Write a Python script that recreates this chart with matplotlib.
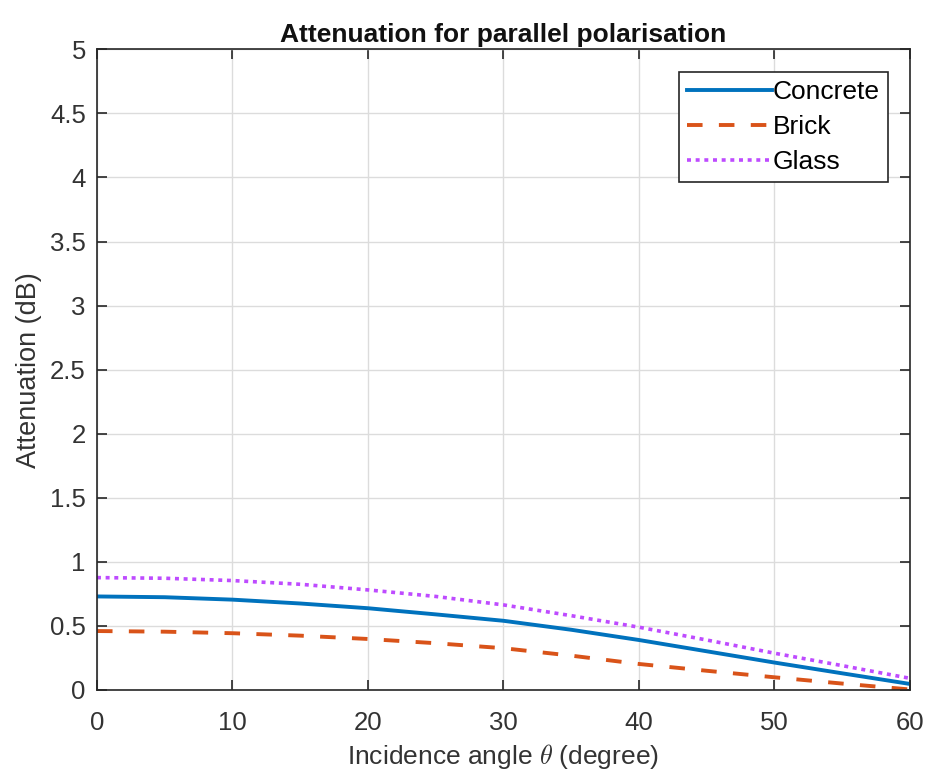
import matplotlib
matplotlib.use("Agg")
import matplotlib.pyplot as plt

# attenuation (dB) vs incidence angle, parallel polarisation
angle = [0, 5, 10, 15, 20, 25, 30, 35, 40, 45, 50, 55, 60]
concrete = [0.730, 0.724, 0.705, 0.675, 0.638, 0.590, 0.540, 0.470, 0.390, 0.302, 0.214, 0.130, 0.047]
brick = [0.460, 0.455, 0.443, 0.424, 0.398, 0.365, 0.326, 0.268, 0.203, 0.150, 0.099, 0.050, 0.004]
glass = [0.877, 0.872, 0.854, 0.825, 0.781, 0.730, 0.664, 0.580, 0.490, 0.390, 0.287, 0.190, 0.091]

x_ticks = [0, 10, 20, 30, 40, 50, 60]
y_ticks = [0, 0.5, 1, 1.5, 2, 2.5, 3, 3.5, 4, 4.5, 5]
y_tick_labels = ["0", "0.5", "1", "1.5", "2", "2.5", "3", "3.5", "4", "4.5", "5"]

plt.rcParams['font.family'] = ['Liberation Sans', 'DejaVu Sans']
plt.rcParams['mathtext.fontset'] = 'cm'

fig = plt.figure(figsize=(9.36, 7.73), dpi=100)
ax = fig.add_axes([0.1036, 0.1074, 0.8686, 0.8288])

ax.plot(angle, concrete, color='#0072BD', lw=2.8, ls='-', label='Concrete')
ax.plot(angle, brick, color='#D95319', lw=2.8, ls=(0, (4.0, 4.2)), label='Brick')
ax.plot(angle, glass, color='#BE4BFF', lw=2.6, ls=(0, (1.1, 1.3)), label='Glass')

ax.set_xlim(0, 60)
ax.set_ylim(0, 5)
ax.set_xticks(x_ticks)
ax.set_yticks(y_ticks)
ax.set_yticklabels(y_tick_labels)

ax.grid(True, color='#DCDCDC', lw=1.0)
ax.set_axisbelow(True)
for s in ax.spines.values():
    s.set_color('#262626')
    s.set_linewidth(1.2)
ax.tick_params(direction='in', length=7, width=1.2, color='#262626',
               labelsize=18.5, labelcolor='#333333', top=True, right=True)
ax.tick_params(axis='y', pad=8)
ax.tick_params(axis='x', pad=15)

ax.set_xlabel(r'Incidence angle $\theta$ (degree)', fontsize=19, color='#333333', labelpad=5)
ax.set_ylabel('Attenuation (dB)', fontsize=19.5, color='#333333', labelpad=6)
ax.set_title('Attenuation for parallel polarisation', fontsize=19, fontweight='bold',
             color='#111111', pad=5)

leg = ax.legend(loc='upper right', bbox_to_anchor=(0.973, 0.964), fontsize=19,
                fancybox=False, framealpha=1, edgecolor='#262626',
                handlelength=3.2, handletextpad=0.05, borderpad=0.3,
                labelspacing=0.42, borderaxespad=0)
leg.get_frame().set_linewidth(1.2)

fig.savefig('out.png', dpi=100)
